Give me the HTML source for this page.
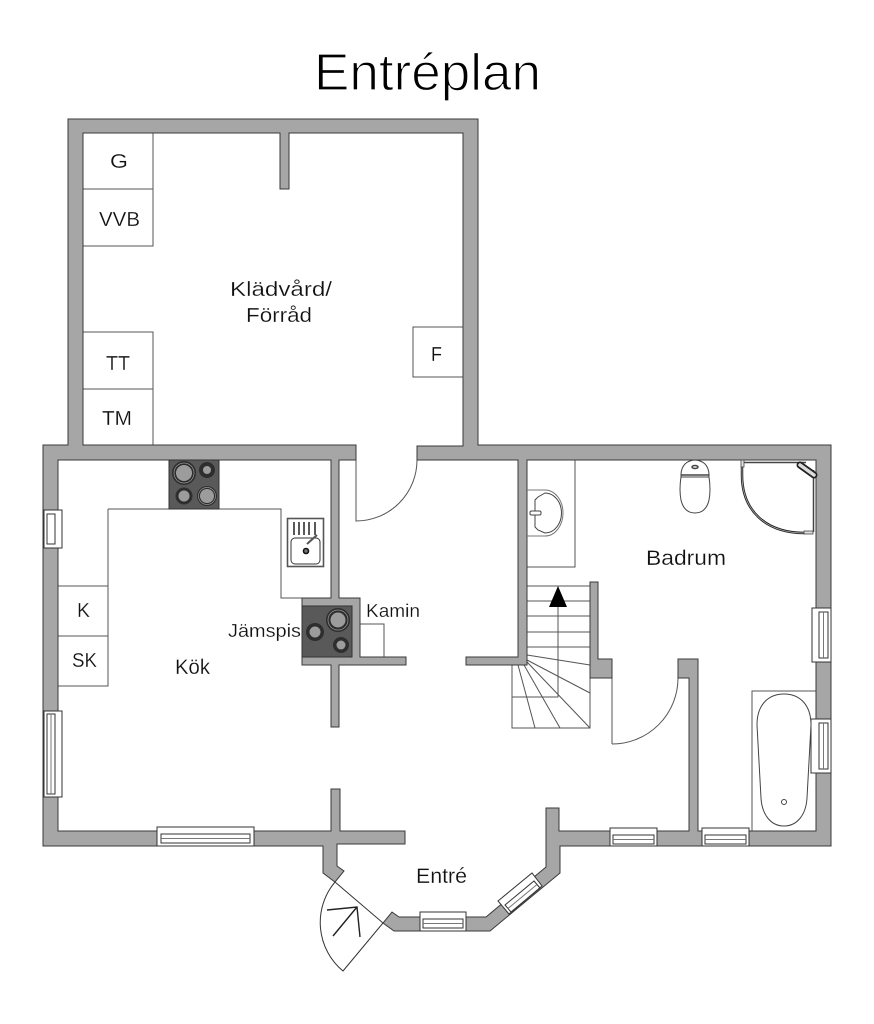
<!DOCTYPE html>
<html><head><meta charset="utf-8"><style>html,body{margin:0;padding:0;background:#fff}svg{display:block}text{font-family:"Liberation Sans",sans-serif;fill:#111;stroke:#fff;stroke-width:.2px}</style></head><body>
<svg width="874" height="1024" viewBox="0 0 874 1024" xmlns="http://www.w3.org/2000/svg">
<rect width="874" height="1024" fill="#fff"/>
<g fill="none" stroke="#555" stroke-width="1">
<path d="M83 189H153M83 133H153V246H83M83 332H153V445M83 389H153M463 327H413V377H463"/>
<path d="M108 509H281V598H302M108 509V686H58M58 586H108M58 636H108"/>
<path d="M360 624H384V657"/>
<path d="M527 567H575V460"/>
<path d="M752 831V691H816"/>
<path d="M590 678V728H512V665M612 678V744M590 728"/>
<path d="M527 586H590M527 601H590M527 616H590M527 632H590M527 647H590M527 655L590 665M527 660L590 693M527 662L590 728M524 665L560 728M518 665L535 728M512 697H558V607"/>
<path d="M356 460V521A61 61 0 0 0 417 460"/>
<path d="M612 744A66 66 0 0 0 678 678"/>
<path d="M335 882L383 923L343 971A63 63 0 0 1 335 882" stroke="#333"/>
<path d="M333 936L357 907M327 910L357 907L360 937" stroke="#222" stroke-width="1.4"/>
</g>
<path d="M558 586L549 607H567Z" fill="#000"/>
<path fill="#a6a6a6" stroke="#3a3a3a" stroke-width="1" stroke-linejoin="miter" d="M68 119H478V445H831V846H560V873L490 931H394L383 923L392 912L399 917H486L546 867V808H559V831H689V678H678V659H698V831H816V460H527V665H466V657H518V460H417V446H463V133H289V189H280V133H83V445H356V460H339V598H360V657H406V665H339V727H331V665H302V598H331V460H58V831H331V789H340V831H405V844H337V866L344 871L335 882L323 873V846H43V445H68Z"/>
<path fill="#a6a6a6" stroke="#3a3a3a" stroke-width="1" d="M590 582H598V659H612V678H590Z"/>
<g fill="#fff" stroke="#333" stroke-width="1">
<rect x="44" y="510" width="18" height="38"/><rect x="47" y="514" width="8" height="30" fill="none"/>
<rect x="44" y="711" width="18" height="86"/><rect x="47" y="714" width="8" height="80" fill="none"/><path d="M51 714V794" fill="none" stroke="#777"/>
<rect x="157" y="827" width="97" height="19"/><rect x="161" y="834" width="89" height="9" fill="none"/><path d="M161 838.500H250" fill="none" stroke="#777"/>
<rect x="610" y="828" width="47" height="18"/><rect x="613" y="835" width="41" height="9" fill="none"/><path d="M613 839.500H654" fill="none" stroke="#777"/>
<rect x="702" y="828" width="47" height="18"/><rect x="705" y="835" width="41" height="9" fill="none"/><path d="M705 839.500H746" fill="none" stroke="#777"/>
<rect x="812" y="608" width="19" height="54"/><rect x="819" y="612" width="9" height="46" fill="none"/><path d="M823.500 612V658" fill="none" stroke="#777"/>
<rect x="811" y="719" width="20" height="54"/><rect x="819" y="723" width="9" height="46" fill="none"/><path d="M823.500 723V769" fill="none" stroke="#777"/>
<rect x="420" y="912" width="46" height="19"/><rect x="423" y="919" width="40" height="9" fill="none"/><path d="M423 923.500H463" fill="none" stroke="#777"/>
<path d="M498 901L532 873L542 886L509 914Z"/><path d="M505 905L534 881L540 888L511 912Z" fill="none"/><path d="M508 908.500L537 884.500" fill="none" stroke="#777"/>
</g>
<!-- hob -->
<rect x="169" y="460" width="50" height="49" fill="#595959" stroke="#333"/>
<g fill="#2e2e2e">
<circle cx="184" cy="473" r="12"/><circle cx="207" cy="470" r="8"/><circle cx="184" cy="496" r="8.500"/><circle cx="207" cy="496" r="10"/>
</g>
<g fill="none" stroke="#999" stroke-width=".7"><circle cx="184" cy="473" r="10"/><circle cx="207" cy="496" r="8.500"/></g>
<g fill="#9c9c9c"><circle cx="184" cy="473" r="8"/><circle cx="207" cy="470" r="4"/><circle cx="184" cy="496" r="5.500"/><circle cx="207" cy="496" r="7"/></g>
<rect x="302" y="606" width="50" height="51" fill="#595959" stroke="#333"/>
<g fill="#2e2e2e"><circle cx="338" cy="620" r="12"/><circle cx="315" cy="632" r="9"/><circle cx="341" cy="645" r="8"/></g>
<circle cx="338" cy="620" r="10" fill="none" stroke="#999" stroke-width=".7"/>
<g fill="#9c9c9c"><circle cx="338" cy="620" r="7.500"/><circle cx="315" cy="632" r="5.500"/><circle cx="341" cy="645" r="4.500"/></g>
<!-- sink -->
<rect x="287.500" y="518.500" width="36" height="48" fill="#fff" stroke="#555" stroke-width="1.600"/>
<rect x="291" y="538" width="29" height="26" rx="4" fill="#fff" stroke="#333"/>
<path d="M294 522V535M299 522V535M304 522V535M309 522V535M315 522V535" stroke="#222" stroke-width="1.500"/>
<circle cx="306" cy="551" r="2.500" fill="#777" stroke="#111" stroke-width="1.600"/>
<path d="M307 544L317 535" stroke="#555" stroke-width="2"/>
<!-- basin -->
<g fill="none" stroke="#444" stroke-width="1">
<path d="M527 490H545A18 23 0 0 1 545 536H527" stroke="#777"/>
<path d="M545 493L538 497L535 500V527L538 530L545 533A16.500 20 0 0 0 545 493Z"/>
<rect x="530" y="511" width="11" height="4" rx="1.500" fill="#fff"/>
<!-- toilet -->
<path d="M681 474Q682 461 695 460Q708 461 709 474V477H681Z" fill="#fff"/>
<path d="M681 477Q679 490 681 500Q684 513 695 513Q706 513 709 500Q711 490 709 477"/>
<ellipse cx="695" cy="467" rx="3" ry="1.500" stroke-width="1.500"/>
<path d="M681 475H709" stroke="#222" stroke-width="1.300"/>
<!-- tub -->
<path d="M757 725C757 705 768 694 784 694C800 694 811 705 811 725L807 798C806 815 797 826 784 826C771 826 762 815 761 798Z"/>
<circle cx="784" cy="802" r="2.500"/>
<!-- shower -->
<path d="M742 462.500H806M813.500 470V532" stroke-width="1.500"/>
<path d="M742 466V475C742 510 765 533 805 533" stroke="#222" stroke-width="2.500"/>
<path d="M742 466V475C742 510 765 533 805 533" stroke="#bbb" stroke-width=".7"/>
<rect x="741" y="460" width="3" height="7" fill="#ddd" stroke-width=".8"/>
<rect x="804" y="531" width="9" height="3" fill="#ddd" stroke-width=".8"/>
</g>
<path d="M800 465L814 475" stroke="#222" stroke-width="7" stroke-linecap="round"/>
<path d="M800 465L814 475" stroke="#ddd" stroke-width="3.500" stroke-linecap="round"/>
<!-- text -->
<text x="314" y="90" font-size="52" textLength="227" lengthAdjust="spacingAndGlyphs" style="stroke-width:1.200px;fill:#000">Entréplan</text>
<g font-size="21">
<text x="110" y="168" font-size="20" textLength="18" lengthAdjust="spacingAndGlyphs">G</text>
<text x="99" y="226" font-size="20" textLength="41" lengthAdjust="spacingAndGlyphs">VVB</text>
<text x="106" y="370" font-size="20" textLength="24" lengthAdjust="spacingAndGlyphs">TT</text>
<text x="102" y="425" font-size="20" textLength="30" lengthAdjust="spacingAndGlyphs">TM</text>
<text x="431" y="361" font-size="20" textLength="11" lengthAdjust="spacingAndGlyphs">F</text>
<text x="77" y="617" font-size="20" textLength="13" lengthAdjust="spacingAndGlyphs">K</text>
<text x="72" y="667" font-size="20" textLength="25" lengthAdjust="spacingAndGlyphs">SK</text>
<text x="230" y="296" font-size="20" textLength="102" lengthAdjust="spacingAndGlyphs">Klädvård/</text>
<text x="246" y="322" font-size="20" textLength="66" lengthAdjust="spacingAndGlyphs">Förråd</text>
<text x="175" y="674" textLength="35" lengthAdjust="spacingAndGlyphs">Kök</text>
<text x="646" y="565" textLength="80" lengthAdjust="spacingAndGlyphs">Badrum</text>
<text x="416" y="883" textLength="51" lengthAdjust="spacingAndGlyphs">Entré</text>
<text x="228" y="637" font-size="18" textLength="73" lengthAdjust="spacingAndGlyphs">Jämspis</text>
<text x="366" y="617" font-size="18" textLength="54" lengthAdjust="spacingAndGlyphs">Kamin</text>
</g>
</svg>
</body></html>
